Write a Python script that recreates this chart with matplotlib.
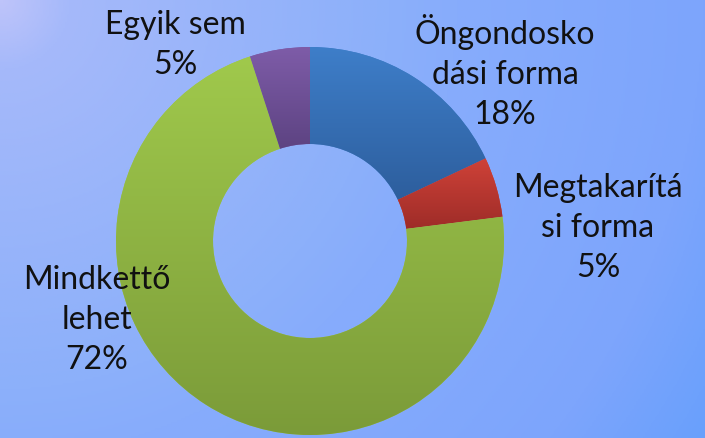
import numpy as np
import matplotlib.pyplot as plt
from matplotlib.colors import LinearSegmentedColormap

categories = ["Öngondosko\ndási forma", "Megtakarítá\nsi forma", "Mindkettő\nlehet", "Egyik sem"]
values = [18, 5, 72, 5]
top_colors = ["#3e7ec9", "#cf4238", "#a0c94c", "#7e5ca8"]
bottom_colors = ["#2d5e9d", "#9e2c28", "#7b9b39", "#5d4382"]

W, H = 705, 438
fig = plt.figure(figsize=(W / 100, H / 100), dpi=100)
ax = fig.add_axes([0, 0, 1, 1])

# background gradient (radial from top-left corner)
py, px = np.mgrid[0:H:220j, 0:W:350j]
t = np.clip(np.hypot(px, py) / np.hypot(W, H), 0, 1)
bg = LinearSegmentedColormap.from_list("bg", [
    (0.0, "#bec4fa"), (0.08, "#a5b9fa"), (0.47, "#8cb0fa"),
    (0.55, "#87acfc"), (0.85, "#7da5fc"), (1.0, "#69a0fc")])
ax.imshow(t, cmap=bg, extent=(0, W, 0, H), origin="upper", aspect="auto", zorder=0, interpolation="bilinear")

cx, cy, R = 310, H - 241, 194
wedges, _ = ax.pie(values, radius=R, center=(cx, cy), startangle=90, counterclock=False,
                   colors=top_colors, wedgeprops=dict(width=R * 0.5, edgecolor="none", linewidth=0))
grad = np.linspace(0, 1, 256).reshape(-1, 1)
for w, c0, c1 in zip(wedges, top_colors, bottom_colors):
    p = w.get_patch_transform().transform_path(w.get_path())
    ext = p.get_extents()
    cm = LinearSegmentedColormap.from_list("g", [c0, c1])
    im = ax.imshow(grad, cmap=cm, extent=(ext.x0, ext.x1, ext.y0, ext.y1), origin="upper",
                   aspect="auto", zorder=3, interpolation="bilinear")
    im.set_clip_path(w)

label_pos = [(505, 72), (598, 228), (97, 320), (175, 45)]
for name, val, (x, y) in zip(categories, values, label_pos):
    ax.text(x, H - y, f"{name}\n{val}%", ha="center", va="center", fontsize=23,
            family="Lato", color="#111111", linespacing=1.42, zorder=5)

ax.set_xlim(0, W)
ax.set_ylim(0, H)
ax.set_aspect("auto")
ax.axis("off")
fig.savefig("out.png", dpi=100)
